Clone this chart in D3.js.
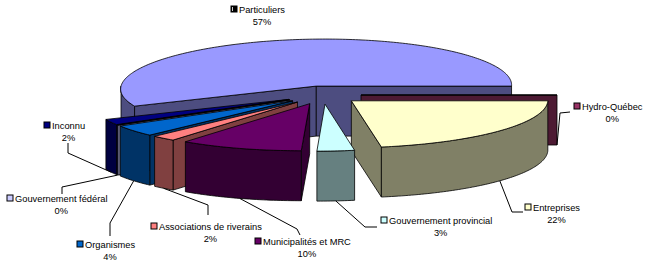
<!DOCTYPE html>
<html>
<head>
<meta charset="utf-8">
<script src="https://cdn.jsdelivr.net/npm/d3@7"></script>
<style>
body { margin: 0; background: #fff; }
svg { display: block; }
text { font-family: "Liberation Sans", Arial, sans-serif; font-size: 9.3px; fill: #000; }
</style>
</head>
<body>
<svg id="chart" width="645" height="266"></svg>
<script>
'use strict';

// data
var categories = ["Particuliers", "Hydro-Québec", "Entreprises", "Gouvernement provincial",
	"Municipalités et MRC", "Associations de riverains", "Organismes", "Gouvernement fédéral", "Inconnu"];
var values = [57, 0, 22, 3, 10, 2, 4, 0, 2];
var percentLabels = ["57%", "0%", "22%", "3%", "10%", "2%", "4%", "0%", "2%"];

// Excel palette: top colour and the darker side colour
var topColors = ["#9999FF", "#993366", "#FFFFCC", "#CCFFFF", "#660066", "#FF8080", "#0066CC", "#CCCCFF", "#000080"];
var sideColors = ["#4D4D80", "#4D1A33", "#808066", "#668080", "#330033", "#804040", "#003366", "#666680", "#000040"];

// label layout: name text start x, baseline y, and the leader elbow points (null = no leader)
var labelLayout = [
	{ x: 239, y: 13, leader: null },
	{ x: 582, y: 110, leader: [[560, 113], [570, 112]] },
	{ x: 533, y: 211, leader: [[512, 212], [523, 212]] },
	{ x: 389, y: 224, leader: [[365, 227], [377, 227]] },
	{ x: 263, y: 245, leader: [[297, 229], [300, 235]] },
	{ x: 159, y: 230, leader: [[208, 205], [208, 215]] },
	{ x: 85, y: 248, leader: [[110, 223], [110, 236]] },
	{ x: 15, y: 202, leader: [[62, 187], [62, 194]] },
	{ x: 52, y: 129, leader: [[68, 153], [68, 143]] }
];

var R = 196, K = 0.24, H = 50, CX = 323, CY = 95, EXPLODE = 38;
var START = 244.8 * Math.PI / 180;
// slight perspective: nearer points spread out from a point right of the chart
var PERSP = 0.02, PX = 733;

var svg = d3.select("#chart");

var pie = d3.pie()
	.sort(null)
	.value(d => d)
	.startAngle(START)
	.endAngle(START + 2 * Math.PI);

var arcs = pie(values).map((d, i) => {
	var t1 = d.startAngle - Math.PI / 2;
	var t2 = d.endAngle - Math.PI / 2;
	var mid = (t1 + t2) / 2;
	return { i: i, t1: t1, t2: t2, mid: mid,
		ox: EXPLODE * Math.cos(mid), oy: EXPLODE * Math.sin(mid) };
});

function Proj(x, y, z)
{
	var s = 1 + PERSP * y / R;
	return [PX + (CX + x - PX) * s, CY + H + y * K - z];
}

function Rim(s, t, z)
{
	return Proj(s.ox + R * Math.cos(t), s.oy + R * Math.sin(t), z);
}

function ArcPoints(s, a, b, z)
{
	var n = Math.max(1, Math.ceil(Math.abs(b - a) / (Math.PI / 180)));
	return d3.range(n + 1).map(j => Rim(s, a + (b - a) * j / n, z));
}

var line = d3.line();
function Poly(pts) { return line(pts) + "Z"; }

var gPie = svg.append("g")
	.attr("stroke", "#000")
	.attr("stroke-width", 0.8)
	.attr("stroke-linejoin", "round");

// back to front
var order = arcs.slice().sort((a, b) => Math.sin(a.mid) - Math.sin(b.mid));

order.forEach(s => {
	var g = gPie.append("g");
	var cTop = Proj(s.ox, s.oy, H), cBot = Proj(s.ox, s.oy, 0);

	// cut faces
	if (Math.cos(s.t1) < 0)
		g.append("path").attr("fill", sideColors[s.i])
			.attr("d", Poly([cTop, Rim(s, s.t1, H), Rim(s, s.t1, 0), cBot]));
	if (Math.cos(s.t2) > 0)
		g.append("path").attr("fill", sideColors[s.i])
			.attr("d", Poly([cTop, Rim(s, s.t2, H), Rim(s, s.t2, 0), cBot]));

	// outer side, only the front half
	[[0, Math.PI], [2 * Math.PI, 3 * Math.PI]].forEach(r => {
		var a = Math.max(s.t1, r[0]), b = Math.min(s.t2, r[1]);
		if (b - a > 1e-6)
		{
			var pts = ArcPoints(s, a, b, H).concat(ArcPoints(s, b, a, 0));
			g.append("path").attr("fill", sideColors[s.i]).attr("d", Poly(pts));
		}
	});

	// top
	g.append("path").attr("fill", topColors[s.i])
		.attr("d", Poly([cTop].concat(ArcPoints(s, s.t1, s.t2, H))));
});

// leader lines
var gLines = svg.append("g").attr("fill", "none").attr("stroke", "#000").attr("stroke-width", 1);
arcs.forEach(s => {
	var lay = labelLayout[s.i];
	if (!lay.leader) return;
	var anchor = Rim(s, s.mid, 0);
	gLines.append("path").attr("d", d3.line()([anchor].concat(lay.leader)));
});

// labels
var gLab = svg.append("g");
arcs.forEach(s => {
	var lay = labelLayout[s.i];
	var name = gLab.append("text")
		.attr("x", lay.x)
		.attr("y", lay.y)
		.text(categories[s.i]);
	var w = name.node().getComputedTextLength();
	gLab.append("text")
		.attr("x", lay.x + w / 2)
		.attr("y", lay.y + 11.5)
		.attr("text-anchor", "middle")
		.text(percentLabels[s.i]);
	gLab.append("rect")
		.attr("x", lay.x - 8)
		.attr("y", lay.y - 7)
		.attr("width", 6)
		.attr("height", 6)
		.attr("fill", s.i == 0 ? "#000" : topColors[s.i])
		.attr("stroke", "#000")
		.attr("stroke-width", 1);
	if (s.i == 0)
		gLab.append("line")
			.attr("x1", lay.x - 6.5).attr("x2", lay.x - 6.5)
			.attr("y1", lay.y - 6).attr("y2", lay.y - 2)
			.attr("stroke", "#ccc").attr("stroke-width", 1);
});
</script>
</body>
</html>
